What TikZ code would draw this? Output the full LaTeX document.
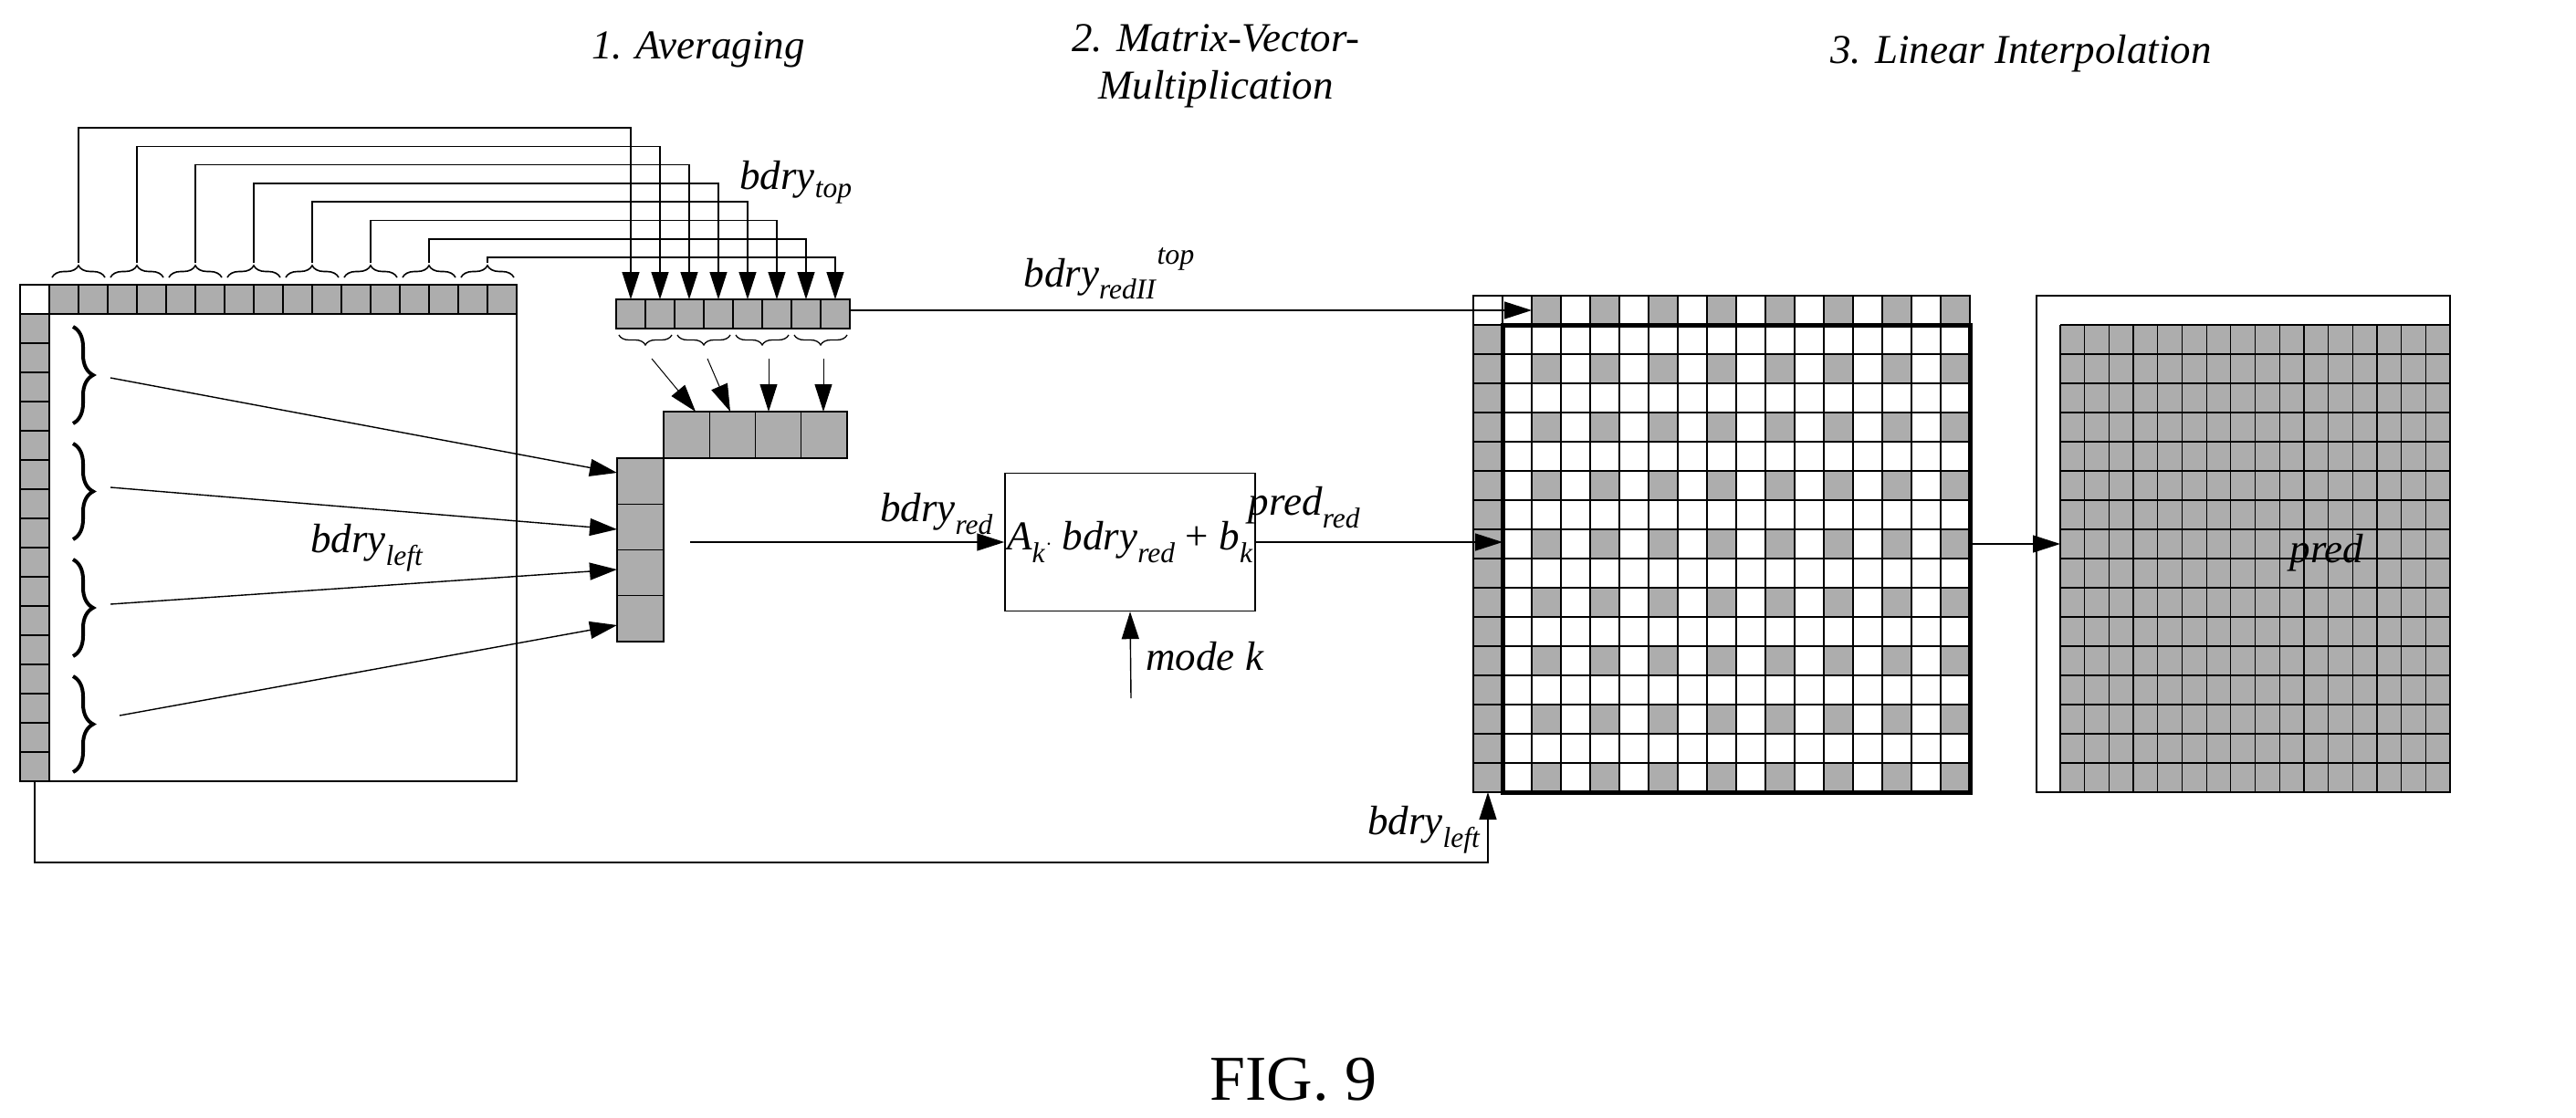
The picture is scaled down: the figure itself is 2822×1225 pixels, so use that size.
\documentclass[tikz,border=0pt]{standalone}
\usepackage{fontspec}
\setmainfont{Liberation Serif}
\usetikzlibrary{arrows.meta,decorations.pathreplacing,calc}
\newcommand{\lb}[2]{\textit{#1}\textsubscript{\textit{#2}}}
\begin{document}
\begin{tikzpicture}[x=1pt,y=-1pt,
  ln/.style={line width=1.4pt},
  arr/.style={ln,-{Triangle[length=30pt,width=19pt]}},
  cellg/.style={draw,line width=1.3pt,fill=black!32},
  cellw/.style={draw,line width=1.3pt,fill=white},
  txt/.style={font=\fontsize{45}{52}\selectfont},
  brc/.style={decorate,line width=1.6pt},
  ]
\useasboundingbox (0,0) rectangle (2822,1225);
% titles
\node[txt] (t1) at (765,54) {\textit{1. Averaging}};
\node[txt,align=center] (t2) at (1332,72) {\textit{2. Matrix-Vector-}\\\textit{Multiplication}};
\node[txt] (t3) at (2214,59) {\textit{3. Linear Interpolation}};
\node[font=\fontsize{70}{80}\selectfont] (fig) at (1417,1183) {FIG. 9};
% ---- middle grid
\draw[cellw] (1614,324) rectangle +(32,32);
\foreach \i in {0,...,15}{
  \pgfmathparse{isodd(\i)?"cellg":"cellw"}\let\st\pgfmathresult
  \draw[\st] ({1646+32*\i},324) rectangle +(32,32);
  \draw[cellg] (1614,{356+32*\i}) rectangle +(32,32);
  \foreach \j in {0,...,15}{
    \pgfmathparse{(isodd(\i) && isodd(\j))?"cellg":"cellw"}\let\sx\pgfmathresult
    \draw[\sx] ({1646+32*\i},{356+32*\j}) rectangle +(32,32);
  }
}
\draw[line width=5pt] (1646,356) rectangle (2158,868);
% ---- pred
\draw[ln] (2231,324) rectangle (2684,868);
\fill[black!32] (2257,356) rectangle (2684,868);
\foreach \i in {0,...,16}{\draw[line width=1.3pt] ({2257+26.6875*\i},356) -- ({2257+26.6875*\i},868);}
\foreach \j in {0,...,16}{\draw[line width=1.3pt] (2257,{356+32*\j}) -- (2684,{356+32*\j});}
\node[txt] (lp) at (2549,606) {\textit{pred}};
% ---- left block
\draw[ln] (22,312) rectangle (566,856);
\draw[cellw] (22,312) rectangle +(32,32);
\foreach \i in {0,...,15}{
  \draw[cellg] ({54+32*\i},312) rectangle +(32,32);
  \draw[cellg] (22,{344+32*\i}) rectangle +(32,32);
}
% top braces and routing
\foreach \i in {0,...,7}{
  \draw[brc,decoration={brace,amplitude=13pt}] ({54+64*\i+3},304) -- ({54+64*\i+61},304);
  \coordinate (tb\i) at ({86+64*\i},288);
  \coordinate (lv\i) at ({691+32*\i},{140+20.3*\i});
  \coordinate (ea\i) at ({691+32*\i},328);
  \draw[arr] (tb\i) |- (lv\i) -- (ea\i);
}
% 8-cell block
\foreach \i in {0,...,7}{\draw[cellg] ({675+32*\i},328) rectangle +(32,32);}
\coordinate (b8e) at (931,340);
\node[txt] (lbt) at (872,200) {\lb{bdry}{top}};
% lower braces
\foreach \k in {0,...,3}{
  \draw[brc,line width=1.3pt,decoration={brace,amplitude=11pt}] ({675+64*\k+61},367) -- ({675+64*\k+3},367);
}
\coordinate (s0) at (714,393); \coordinate (d0) at (762,451);
\coordinate (s1) at (775,393); \coordinate (d1) at (800,451);
\coordinate (s2) at (842,393); \coordinate (d2) at (842,451);
\coordinate (s3) at (902,393); \coordinate (d3) at (902,451);
\foreach \k in {0,...,3}{\draw[arr,line width=1pt] (s\k) -- (d\k);}
% reduced blocks
\foreach \k in {0,...,3}{
  \draw[cellg] ({727+50.25*\k},451) rectangle +(50.25,51);
  \draw[cellg] (676,{502+50.25*\k}) rectangle +(51,50.25);
}
% left braces
\foreach \k/\a/\b in {0/358/464,1/486/591,2/613/719,3/741/846}{
  \draw[brc,line width=4pt,decoration={brace,amplitude=22pt}] (80,\a) -- (80,\b);
}
\coordinate (l0) at (121,414); \coordinate (r0) at (676,518);
\coordinate (l1) at (121,534); \coordinate (r1) at (676,580);
\coordinate (l2) at (121,662); \coordinate (r2) at (676,624);
\coordinate (l3) at (131,784); \coordinate (r3) at (676,685);
\foreach \k in {0,...,3}{\draw[arr] (l\k) -- (r\k);}
\node[txt] (lbl) at (402,600) {\lb{bdry}{left}};
% MVM box
\node[draw,ln,minimum width=256pt,minimum height=151pt,txt,inner sep=2pt] (box) at (1238,594)
  {\textit{A}\textsubscript{\textit{k}}$\cdot$ \lb{bdry}{red} + \lb{b}{k}};
\coordinate (rs) at (756,594);
\draw[arr] (rs) -- (box.west);
\node[txt] (lbr) at (1026,563) {\lb{bdry}{red}};
\coordinate (mk) at (1239,765);
\draw[arr] (mk) -- (box.south);
\node[txt] (lmk) at (1320,719) {\textit{mode k}};
\coordinate (pin) at (1646,594);
\draw[arr] (box.east) -- (pin);
\node[txt] (lpr) at (1429,556) {\lb{pred}{red}};
% top line
\coordinate (gt) at (1678,340);
\draw[arr] (b8e) -- (gt);
\node[txt] (lrt) at (1215,300) {\textit{bdry}\textsubscript{\textit{redII}}\raisebox{0.55em}{\fontsize{32}{36}\selectfont\textit{top}}};
% bottom line
\coordinate (bl0) at (38,856);
\coordinate (bl1) at (1630,868);
\draw[arr] (bl0) -- (38,945) -| (bl1);
\node[txt] (lbb) at (1560,909) {\lb{bdry}{left}};
% pred arrow
\coordinate (ge) at (2158,596);
\coordinate (pw) at (2257,596);
\draw[arr] (ge) -- (pw);
\end{tikzpicture}
\end{document}
